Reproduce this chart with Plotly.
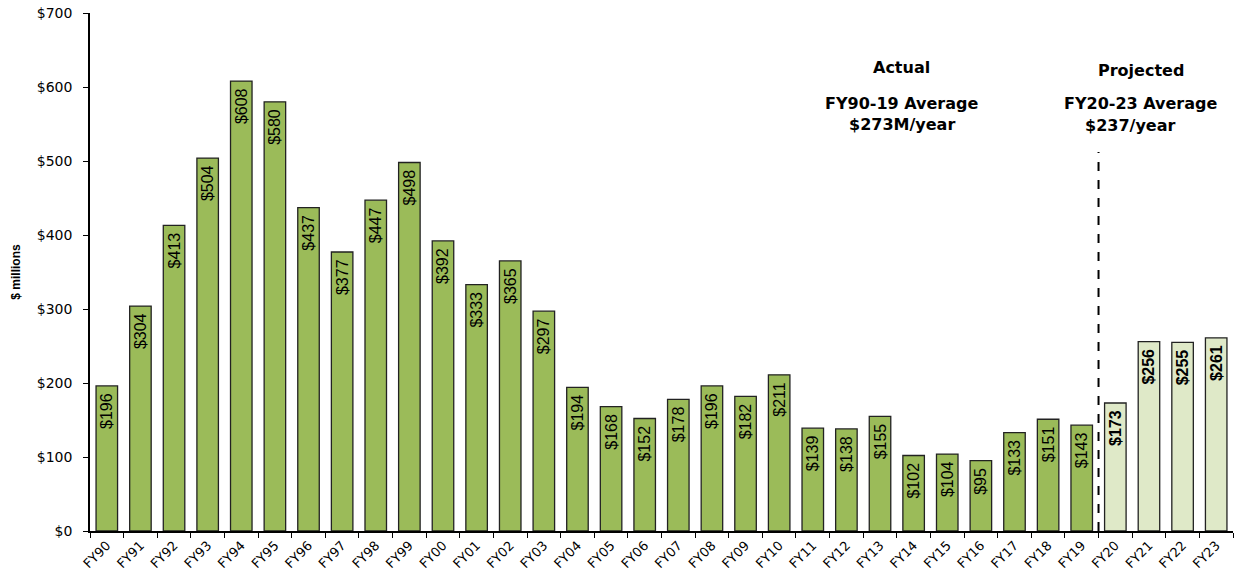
import plotly.graph_objects as go

years = ["FY90","FY91","FY92","FY93","FY94","FY95","FY96","FY97","FY98","FY99",
         "FY00","FY01","FY02","FY03","FY04","FY05","FY06","FY07","FY08","FY09",
         "FY10","FY11","FY12","FY13","FY14","FY15","FY16","FY17","FY18","FY19",
         "FY20","FY21","FY22","FY23"]
values = [196,304,413,504,608,580,437,377,447,498,
          392,333,365,297,194,168,152,178,196,182,
          211,139,138,155,102,104,95,133,151,143,
          173,256,255,261]
n_actual = 30

actual_color = "#9BBB59"
proj_color = "#DFE9C8"
colors = [actual_color]*n_actual + [proj_color]*(len(years)-n_actual)
pad = "\u00a0"
labels = []
for i, v in enumerate(values):
    if i < n_actual:
        labels.append(f"${v}{pad}")
    else:
        labels.append(f"<b>${v}</b>{pad}")

fig = go.Figure()
fig.add_trace(go.Bar(
    x=years, y=values,
    marker=dict(color=colors, line=dict(color="#222222", width=1.3)),
    text=labels,
    textposition="inside",
    insidetextanchor="end",
    textangle=-90,
    textfont=dict(family="Liberation Sans Narrow, Arial Narrow, Liberation Sans, Arial", size=16, color="black"),
    constraintext="none",
    hoverinfo="x+y",
))

fig.add_shape(type="line", xref="x", yref="y", x0=29.5, x1=29.5, y0=0, y1=512,
              line=dict(color="black", width=2, dash="dash"))

ann_font = dict(family="DejaVu Sans", size=16, color="black")
notes = [
    (23.65, 627, "<b>Actual</b>"),
    (23.65, 578, "<b>FY90-19 Average</b>"),
    (23.65, 550, "<b>$273M/year</b>"),
    (30.76, 622, "<b>Projected</b>"),
    (30.76, 578, "<b>FY20-23 Average</b>"),
    (30.45, 548, "<b>$237/year</b>"),
]
for x, y, t in notes:
    fig.add_annotation(x=x, y=y, xref="x", yref="y", text=t, showarrow=False,
                       font=ann_font, xanchor="center", yanchor="middle")

fig.update_layout(
    width=1237, height=577,
    margin=dict(l=90, r=4, t=13, b=46),
    plot_bgcolor="white", paper_bgcolor="white",
    bargap=0.36,
    showlegend=False,
    xaxis=dict(
        type="category",
        range=[-0.5, len(years)-0.5],
        automargin=False,
        showline=True, linecolor="black", linewidth=1.5,
        ticks="outside", tickson="boundaries", ticklen=5, tickcolor="black",
        tickangle=-45,
        tickfont=dict(family="DejaVu Sans", size=13, color="black"),
        showgrid=False,
    ),
    yaxis=dict(
        range=[0, 700], dtick=100,
        automargin=False,
        tickprefix="$",
        showline=True, linecolor="black", linewidth=1.5,
        ticks="outside", ticklen=5, tickcolor="black",
        ticklabelstandoff=8,
        tickfont=dict(family="DejaVu Sans", size=14, color="black"),
        showgrid=False, zeroline=False,
        title=dict(text="<b>$ millions</b>",
                   font=dict(family="Liberation Sans Narrow, Arial Narrow, Arial", size=12, color="black"),
                   standoff=14),
    ),
)

fig.write_html("out.html", config={"displayModeBar": False},
               post_script="document.body.style.margin='0';")
